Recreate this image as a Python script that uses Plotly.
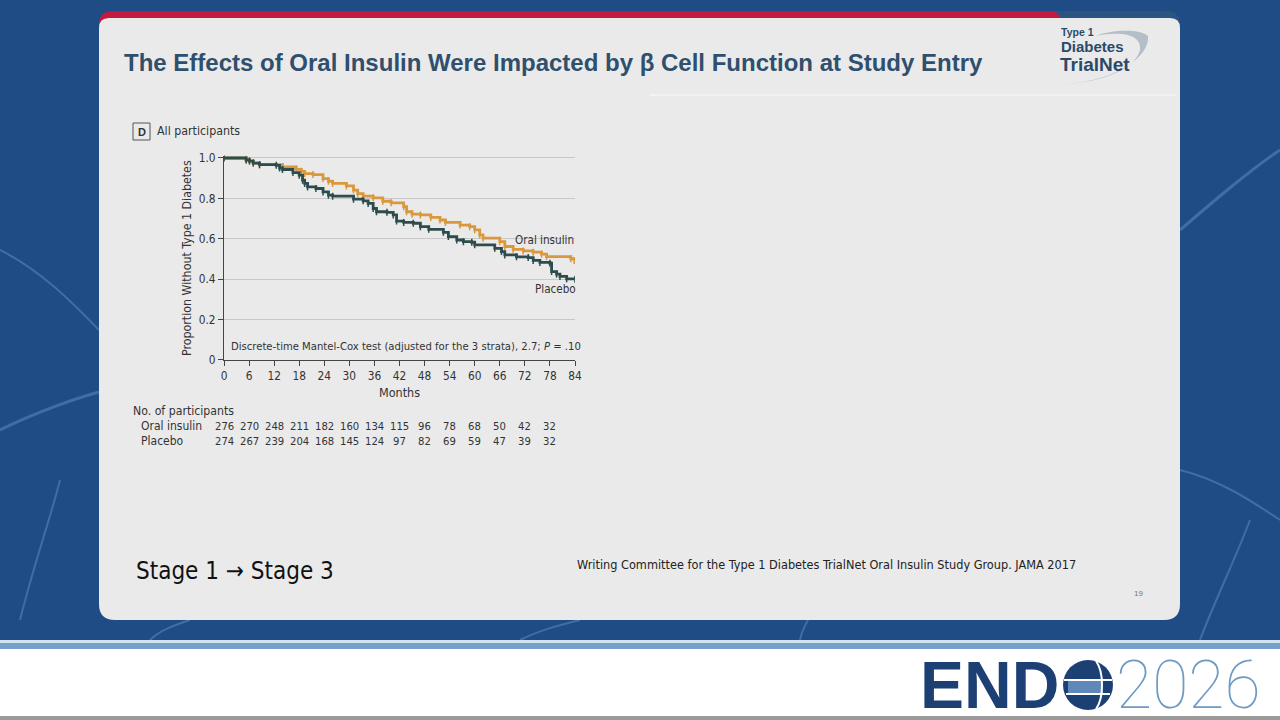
import plotly.graph_objects as go

# Kaplan-Meier style step curves (months, proportion without T1D)
months_oral = [0, 5.3, 6.1, 7, 8.5, 14, 17.3, 18.5, 19.3, 21.3, 23.7, 25, 26, 29.3, 31, 32,
               33.3, 35.7, 38, 40, 43, 43.7, 45, 47, 49.5, 51.7, 53, 56.5, 58.8, 60, 61.2,
               62, 66, 67.2, 69.2, 71.6, 74, 76, 77.2, 83, 83.8]
surv_oral = [1.0, 0.99, 0.985, 0.975, 0.967, 0.956, 0.944, 0.934, 0.923, 0.918, 0.898, 0.885,
             0.874, 0.862, 0.841, 0.824, 0.811, 0.803, 0.786, 0.778, 0.759, 0.734, 0.722, 0.718,
             0.706, 0.693, 0.681, 0.668, 0.66, 0.644, 0.619, 0.603, 0.586, 0.562, 0.548, 0.54,
             0.534, 0.524, 0.512, 0.501, 0.493]

months_placebo = [0, 5.3, 6.1, 7, 8.5, 12.5, 13.3, 14, 16.5, 18, 18.8, 19.3, 20, 22, 23.7, 25,
                  26, 31, 33.3, 34.5, 35.7, 36.5, 39, 40.5, 41.3, 43, 45.3, 47, 49, 52.5, 53.7,
                  55.7, 57.3, 59.3, 60, 64.8, 66.4, 67.2, 70, 72.8, 74, 75.6, 78, 78.4, 79.6,
                  80.4, 82, 84]
surv_placebo = [1.0, 0.99, 0.985, 0.975, 0.967, 0.964, 0.95, 0.943, 0.928, 0.915, 0.89, 0.874,
                0.857, 0.849, 0.832, 0.816, 0.811, 0.796, 0.788, 0.775, 0.75, 0.734, 0.731, 0.718,
                0.688, 0.681, 0.677, 0.66, 0.647, 0.632, 0.611, 0.594, 0.586, 0.583, 0.57, 0.553,
                0.537, 0.52, 0.511, 0.507, 0.493, 0.483, 0.479, 0.438, 0.425, 0.414, 0.402, 0.40]

# number at risk table
risk_months = [0, 6, 12, 18, 24, 30, 36, 42, 48, 54, 60, 66, 72, 78]
risk_oral = [276, 270, 248, 211, 182, 160, 134, 115, 96, 78, 68, 50, 42, 32]
risk_placebo = [274, 267, 239, 204, 168, 145, 124, 97, 82, 69, 59, 47, 39, 32]

x_ticks = list(range(0, 85, 6))
y_ticks = [0, 0.2, 0.4, 0.6, 0.8, 1.0]
y_tick_text = ['0', '0.2', '0.4', '0.6', '0.8', '1.0']

W, H = 1280, 720
NARROW = 'DejaVu Sans Condensed, Liberation Sans Narrow, sans-serif'
SANS = 'Liberation Sans, Arial, sans-serif'
ORANGE = '#DA983C'
TEAL = '#2E4C4D'


def px(x):
    return x / W


def py(y):
    return 1 - y / H


def rrect(x0, y0, x1, y1, r_top, r_bot):
    # rounded rectangle path in paper coords, inputs in pixels (y down)
    pts = [
        f'M {px(x0 + r_top)},{py(y0)}',
        f'L {px(x1 - r_top)},{py(y0)}',
        f'Q {px(x1)},{py(y0)} {px(x1)},{py(y0 + r_top)}',
        f'L {px(x1)},{py(y1 - r_bot)}',
        f'Q {px(x1)},{py(y1)} {px(x1 - r_bot)},{py(y1)}',
        f'L {px(x0 + r_bot)},{py(y1)}',
        f'Q {px(x0)},{py(y1)} {px(x0)},{py(y1 - r_bot)}',
        f'L {px(x0)},{py(y0 + r_top)}',
        f'Q {px(x0)},{py(y0)} {px(x0 + r_top)},{py(y0)} Z',
    ]
    return ' '.join(pts)


def curve(points):
    # cubic path through pixel points (background texture / logo swoosh)
    s = f'M {px(points[0][0])},{py(points[0][1])}'
    for i in range(1, len(points) - 2, 3):
        a, b, c = points[i], points[i + 1], points[i + 2]
        s += f' C {px(a[0])},{py(a[1])} {px(b[0])},{py(b[1])} {px(c[0])},{py(c[1])}'
    return s


fig = go.Figure()

fig.add_trace(go.Scatter(x=months_oral, y=surv_oral, mode='lines+markers', line_shape='hv',
                         line=dict(color=ORANGE, width=2.8),
                         marker=dict(symbol='line-ns-open', size=5, line=dict(color=ORANGE, width=1.5)),
                         showlegend=False, hoverinfo='skip'))
fig.add_trace(go.Scatter(x=months_placebo, y=surv_placebo, mode='lines+markers', line_shape='hv',
                         line=dict(color=TEAL, width=2.8),
                         marker=dict(symbol='line-ns-open', size=5, line=dict(color=TEAL, width=1.5)),
                         showlegend=False, hoverinfo='skip'))

shapes = []
# slide background
shapes.append(dict(type='rect', xref='paper', yref='paper', x0=0, x1=1, y0=py(640), y1=1,
                   fillcolor='#1F4C84', line_width=0, layer='below'))
# texture veins in the background
for pts, w in [
    ([(0, 430), (30, 415), (70, 400), (99, 392)], 3),
    ([(0, 250), (40, 270), (70, 300), (99, 330)], 2),
    ([(20, 620), (35, 560), (50, 520), (60, 480)], 2),
    ([(1180, 230), (1215, 200), (1250, 170), (1280, 150)], 3),
    ([(1180, 470), (1220, 480), (1250, 500), (1280, 520)], 2),
    ([(1200, 640), (1215, 600), (1235, 560), (1250, 520)], 2),
    ([(150, 640), (160, 630), (175, 625), (190, 620)], 2),
    ([(520, 640), (540, 630), (560, 625), (580, 620)], 2),
    ([(800, 640), (802, 630), (805, 625), (808, 620)], 2),
]:
    shapes.append(dict(type='path', xref='paper', yref='paper', path=curve(pts),
                       line=dict(color='rgba(110,150,200,0.45)', width=w), layer='below'))
# footer
shapes.append(dict(type='rect', xref='paper', yref='paper', x0=0, x1=1, y0=py(643), y1=py(640),
                   fillcolor='#D3E2F0', line_width=0, layer='below'))
shapes.append(dict(type='rect', xref='paper', yref='paper', x0=0, x1=1, y0=py(649), y1=py(643),
                   fillcolor='#76A0CB', line_width=0, layer='below'))
shapes.append(dict(type='rect', xref='paper', yref='paper', x0=0, x1=1, y0=py(716), y1=py(649),
                   fillcolor='white', line_width=0, layer='below'))
shapes.append(dict(type='rect', xref='paper', yref='paper', x0=0, x1=1, y0=0, y1=py(716),
                   fillcolor='#9A9A9A', line_width=0, layer='below'))
# card: top bar + grey panel
shapes.append(dict(type='path', xref='paper', yref='paper', path=rrect(99, 11, 1180, 620, 14, 16),
                   fillcolor='#2C5483', line_width=0, layer='below'))
shapes.append(dict(type='path', xref='paper', yref='paper', path=rrect(99, 11, 1062, 40, 14, 0),
                   fillcolor='#C5193F', line_width=0, layer='below'))
shapes.append(dict(type='path', xref='paper', yref='paper', path=rrect(99, 18, 1180, 620, 10, 16),
                   fillcolor='#EAEAEA', line_width=0, layer='below'))
shapes.append(dict(type='line', xref='paper', yref='paper', x0=px(650), x1=px(1176), y0=py(95), y1=py(95),
                   line=dict(color='rgba(255,255,255,0.8)', width=1), layer='below'))
# TrialNet swoosh
shapes.append(dict(type='path', xref='paper', yref='paper',
                   path=curve([(1066, 84), (1120, 80), (1150, 55), (1148, 36),
                               (1140, 28), (1110, 30), (1095, 36),
                               (1125, 30), (1142, 36), (1140, 50),
                               (1135, 70), (1100, 82), (1066, 84)]) + ' Z',
                   fillcolor='#B5BEC8', line_width=0, layer='below'))
# panel label box
shapes.append(dict(type='rect', xref='paper', yref='paper', x0=px(133), x1=px(150), y0=py(140), y1=py(123),
                   fillcolor='rgba(0,0,0,0)', line=dict(color='#555', width=1), layer='below'))
# ENDO globe
shapes.append(dict(type='circle', xref='paper', yref='paper', x0=px(1063), x1=px(1113), y0=py(710), y1=py(660),
                   fillcolor='#1C3F74', line_width=0, layer='below'))
shapes.append(dict(type='rect', xref='paper', yref='paper', x0=px(1068), x1=px(1103), y0=py(693), y1=py(681),
                   fillcolor='#5E88B8', line_width=0, layer='below'))
shapes.append(dict(type='line', xref='paper', yref='paper', x0=px(1064), x1=px(1112), y0=py(680), y1=py(680),
                   line=dict(color='white', width=2), layer='below'))
shapes.append(dict(type='line', xref='paper', yref='paper', x0=px(1066), x1=px(1110), y0=py(694), y1=py(694),
                   line=dict(color='white', width=2), layer='below'))
shapes.append(dict(type='path', xref='paper', yref='paper',
                   path=curve([(1096, 661), (1104, 672), (1104, 698), (1096, 709)]),
                   line=dict(color='white', width=2), layer='below'))

ann = []


def text(x, y, s, size, color='#333', font=NARROW, xanchor='left', yanchor='middle', **kw):
    ann.append(dict(x=px(x), y=py(y), xref='paper', yref='paper', text=s, showarrow=False,
                    xanchor=xanchor, yanchor=yanchor, borderpad=0, borderwidth=0,
                    font=dict(size=size, color=color, family=font), **kw))


text(124, 62, '<b>The Effects of Oral Insulin Were Impacted by β Cell Function at Study Entry</b>', 24,
     color='#2F4F6D', font=SANS)
text(1061, 32, '<b>Type 1</b>', 10.5, color='#2B4A6A', font=SANS)
text(1061, 47, '<b>Diabetes</b>', 15, color='#2B4A6A', font=SANS)
text(1060, 64, '<b>TrialNet</b>', 19, color='#2B4A6A', font=SANS)
text(141.5, 131.5, '<b>D</b>', 11, xanchor='center', font=SANS)
text(157, 131, 'All participants', 12.3)
text(187, 258, 'Proportion Without Type 1 Diabetes', 12.3, xanchor='center', textangle=-90)
text(399, 393, 'Months', 12.5, xanchor='center')
text(574, 240, 'Oral insulin', 11.6, xanchor='right')
text(576, 289, 'Placebo', 11.6, xanchor='right')
text(581, 346, 'Discrete-time Mantel-Cox test (adjusted for the 3 strata), 2.7; <i>P</i> = .10', 11.2,
     xanchor='right')
text(133, 411, 'No. of participants', 12.2)
text(141, 426, 'Oral insulin', 12)
text(141, 441, 'Placebo', 12)
for m, a, b in zip(risk_months, risk_oral, risk_placebo):
    ann.append(dict(x=m, xref='x', y=py(426), yref='paper', text=str(a), showarrow=False,
                    xanchor='center', yanchor='middle', font=dict(size=11.2, color='#333', family=NARROW)))
    ann.append(dict(x=m, xref='x', y=py(441), yref='paper', text=str(b), showarrow=False,
                    xanchor='center', yanchor='middle', font=dict(size=11.2, color='#333', family=NARROW)))
text(136, 571, 'Stage 1 → Stage 3', 24, color='#111')
text(577, 564, 'Writing Committee for the Type 1 Diabetes TrialNet Oral Insulin Study Group. JAMA 2017', 12.6,
     color='#222')
text(1138, 593, '19', 8, color='#777', xanchor='center', font=SANS)
text(920, 685, '<b>END</b>', 66, color='#1C3F74', font=SANS)
ann.append(dict(x=px(1115), y=py(685), xref='paper', yref='paper', text='2026', showarrow=False,
                xanchor='left', yanchor='middle', borderpad=0,
                font=dict(size=66, color='#6E9AC4', family='Roboto, Lato, sans-serif', weight=100)))

fig.update_layout(
    autosize=True, margin=dict(l=0, r=0, t=0, b=0, autoexpand=False),
    paper_bgcolor='#1F4C84', plot_bgcolor='rgba(0,0,0,0)',
    shapes=shapes, annotations=ann, showlegend=False,
    xaxis=dict(domain=[px(224), px(575)], range=[0, 84], tickvals=x_ticks, ticks='outside', ticklen=5,
               tickcolor='#444', showline=True, linecolor='#444', linewidth=1, showgrid=False,
               zeroline=False, automargin=False,
               tickfont=dict(size=11.8, color='#333', family=NARROW), fixedrange=True),
    yaxis=dict(domain=[py(360), py(360 - 202 * 1.012)], range=[0, 1.012], tickvals=y_ticks,
               ticktext=y_tick_text, ticks='outside', ticklen=5, tickcolor='#444', showline=True,
               linecolor='#444', linewidth=1, showgrid=True, gridcolor='#C8C8C8', gridwidth=1,
               zeroline=False, automargin=False,
               tickfont=dict(size=11.8, color='#333', family=NARROW), fixedrange=True),
)

fig.write_html("out.html", default_width='100vw', default_height='100vh',
               config={'displayModeBar': False, 'responsive': True},
               post_script="document.body.style.margin='0';document.body.style.overflow='hidden';"
                           "window.dispatchEvent(new Event('resize'));")
